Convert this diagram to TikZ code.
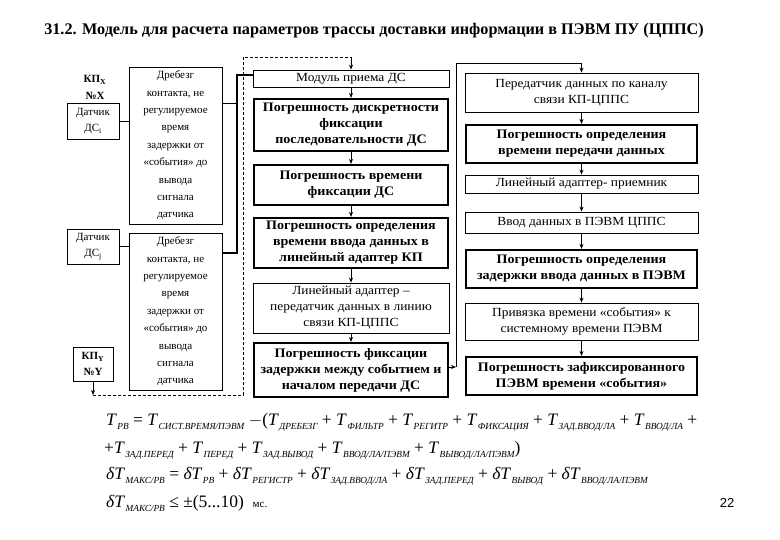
\documentclass[tikz,border=0pt]{standalone}
\usepackage{fontspec}
\setmainfont{Liberation Serif}
\newfontfamily\sansf{Liberation Sans}
\newfontfamily\wthin{Liberation Serif}[FakeStretch=1.08]
\newfontfamily\wbold{Liberation Serif}[FakeStretch=1.08]
\usetikzlibrary{arrows.meta}
\newcommand\Ts[1]{\textit{T}\kern0.5pt\raisebox{-0.5ex}{\fontsize{9.3}{9}\selectfont\itshape #1}}
\newcommand\dTs[1]{\textit{δT}\kern0.5pt\raisebox{-0.5ex}{\fontsize{9.3}{9}\selectfont\itshape #1}}
\tikzset{
  thinbox/.style={draw, line width=0.8pt, align=center, inner sep=0pt,
    font=\wthin\fontsize{12.4}{16}\selectfont},
  thickbox/.style={draw, line width=2.2pt, align=center, inner sep=0pt,
    font=\wbold\fontsize{13}{16}\selectfont\bfseries},
  leftbox/.style={draw, line width=0.8pt, align=center, inner sep=0pt,
    font=\fontsize{11}{17.4}\selectfont},
  conn/.style={line width=0.8pt},
  bus/.style={line width=2pt},
  arr/.style={line width=0.8pt, -{Stealth[length=5pt,width=4pt]}},
  dashline/.style={line width=0.8pt, dash pattern=on 3pt off 2pt},
  formula/.style={anchor=base west, inner sep=0pt, font=\fontsize{17.5}{17}\selectfont}
}
\begin{document}
\begin{tikzpicture}[x=1pt,y=-1pt]
\useasboundingbox (0,0) rectangle (780,540);
% title
\node[font=\fontsize{16.2}{16}\selectfont\bfseries] (title) at (374,31) {31.2. Модель для расчета параметров трассы доставки информации в ПЭВМ ПУ (ЦППС)};
% left column
\node[font=\fontsize{11}{11}\selectfont\bfseries] (kpx) at (95,80) {КП\textsubscript{X}};
\node[font=\fontsize{11}{11}\selectfont\bfseries] (nox) at (95,96) {№X};
\node[leftbox, minimum width=52pt, minimum height=36pt, font=\fontsize{11}{16}\selectfont] (ds1) at (93,121) {Датчик\\ДС\textsubscript{i}};
\node[leftbox, minimum width=93pt, minimum height=157pt] (drb1) at (175.5,145.5)
  {Дребезг\\контакта, не\\регулируемое\\время\\задержки от\\«события» до\\вывода\\сигнала\\датчика};
\node[leftbox, minimum width=52pt, minimum height=35pt, font=\fontsize{11}{16}\selectfont] (ds2) at (93,246.5) {Датчик\\ДС\textsubscript{j}};
\node[leftbox, minimum width=93pt, minimum height=157pt] (drb2) at (175.5,311.5)
  {Дребезг\\контакта, не\\регулируемое\\время\\задержки от\\«события» до\\вывода\\сигнала\\датчика};
\node[leftbox, minimum width=40pt, minimum height=34pt, font=\fontsize{11}{16}\selectfont\bfseries] (kpy) at (93,364) {КП\textsubscript{Y}\\№Y};
% middle column
\node[thinbox, minimum width=196pt, minimum height=17pt] (mod) at (351,78.5) {Модуль приема ДС};
\node[thickbox, minimum width=194pt, minimum height=52pt] (m1) at (351,125) {Погрешность дискретности\\фиксации\\последовательности ДС};
\node[thickbox, minimum width=194pt, minimum height=40pt] (m2) at (351,185) {Погрешность времени\\фиксации ДС};
\node[thickbox, minimum width=194pt, minimum height=50pt] (m3) at (351,243) {Погрешность определения\\времени ввода данных в\\линейный адаптер КП};
\node[thinbox, minimum width=196pt, minimum height=50pt] (m4) at (351,308) {Линейный адаптер –\\передатчик данных в линию\\связи КП-ЦППС};
\node[thickbox, minimum width=194pt, minimum height=54pt] (m5) at (351,370) {Погрешность фиксации\\задержки между событием и\\началом передачи  ДС};
% right column
\node[thinbox, minimum width=233pt, minimum height=39pt] (r1) at (581.5,92.5) {Передатчик данных по каналу\\связи КП-ЦППС};
\node[thickbox, minimum width=231pt, minimum height=38pt] (r2) at (581.5,144) {Погрешность определения\\времени передачи данных};
\node[thinbox, minimum width=233pt, minimum height=18pt] (r3) at (581.5,184) {Линейный адаптер- приемник};
\node[thinbox, minimum width=233pt, minimum height=21pt] (r4) at (581.5,222.5) {Ввод данных в ПЭВМ ЦППС};
\node[thickbox, minimum width=231pt, minimum height=38pt] (r5) at (581.5,269) {Погрешность определения\\задержки ввода данных в ПЭВМ};
\node[thinbox, minimum width=233pt, minimum height=37pt] (r6) at (581.5,321.5) {Привязка времени «события» к\\системному времени ПЭВМ};
\node[thickbox, minimum width=231pt, minimum height=38pt] (r7) at (581.5,376) {Погрешность зафиксированного\\ПЭВМ времени «события»};
% connectors left
\coordinate (busT) at (237,75);
\coordinate (busB) at (237,253);
\coordinate (j1) at (237,103);
\draw[conn] (ds1.east) -- (ds1.east -| drb1.west);
\draw[conn] (ds2.east) -- (ds2.east -| drb2.west);
\draw[conn] (drb1.east |- j1) -- (j1);
\draw[bus] (drb2.east |- busB) -- (busB) -- (busT) -- (busT -| mod.west);
% dashed route
\coordinate (d0) at (93,395);
\coordinate (d1) at (243,395);
\coordinate (d2) at (243,57);
\coordinate (d3) at (351,57);
\draw[arr] (kpy.south) -- (d0);
\draw[dashline] (d0) -- (d1) -- (d2) -- (d3);
\draw[arr] (d3) -- (mod.north);
% middle arrows
\draw[arr] (mod) -- (m1);
\draw[arr] (m1) -- (m2);
\draw[arr] (m2) -- (m3);
\draw[arr] (m3) -- (m4);
\draw[arr] (m4) -- (m5);
% right route
\coordinate (rj) at (456,367);
\coordinate (rt) at (456,63);
\draw[arr] (m5.east |- rj) -- (rj);
\draw[conn] (rj) -- (rt) -- (rt -| r1.north);
\draw[arr] (rt -| r1.north) -- (r1.north);
% right arrows
\draw[arr] (r1) -- (r2);
\draw[arr] (r2) -- (r3);
\draw[arr] (r3) -- (r4);
\draw[arr] (r4) -- (r5);
\draw[arr] (r5) -- (r6);
\draw[arr] (r6) -- (r7);
% formulas
\node[formula] (f1) at (106,425) {\Ts{РВ} = \Ts{СИСТ.ВРЕМЯ/ПЭВМ} $-$(\Ts{ДРЕБЕЗГ} + \Ts{ФИЛЬТР} + \Ts{РЕГИТР} + \Ts{ФИКСАЦИЯ} + \Ts{ЗАД.ВВОД/ЛА} + \Ts{ВВОД/ЛА} +};
\node[formula] (f2) at (104,453) {+\Ts{ЗАД.ПЕРЕД} + \Ts{ПЕРЕД} + \Ts{ЗАД.ВЫВОД} + \Ts{ВВОД/ЛА/ПЭВМ} + \Ts{ВЫВОД/ЛА/ПЭВМ})};
\node[formula] (f3) at (106,479) {\dTs{МАКС/РВ} = \dTs{РВ} + \dTs{РЕГИСТР} + \dTs{ЗАД.ВВОД/ЛА} + \dTs{ЗАД.ПЕРЕД} + \dTs{ВЫВОД} + \dTs{ВВОД/ЛА/ПЭВМ}};
\node[formula] (f4) at (106,507) {\dTs{МАКС/РВ} ≤ ±(5...10)\ \ {\fontsize{11}{11}\selectfont мс.}};
\node[font=\sansf\fontsize{13}{13}\selectfont] (pg) at (727,503) {22};
\end{tikzpicture}
\end{document}
